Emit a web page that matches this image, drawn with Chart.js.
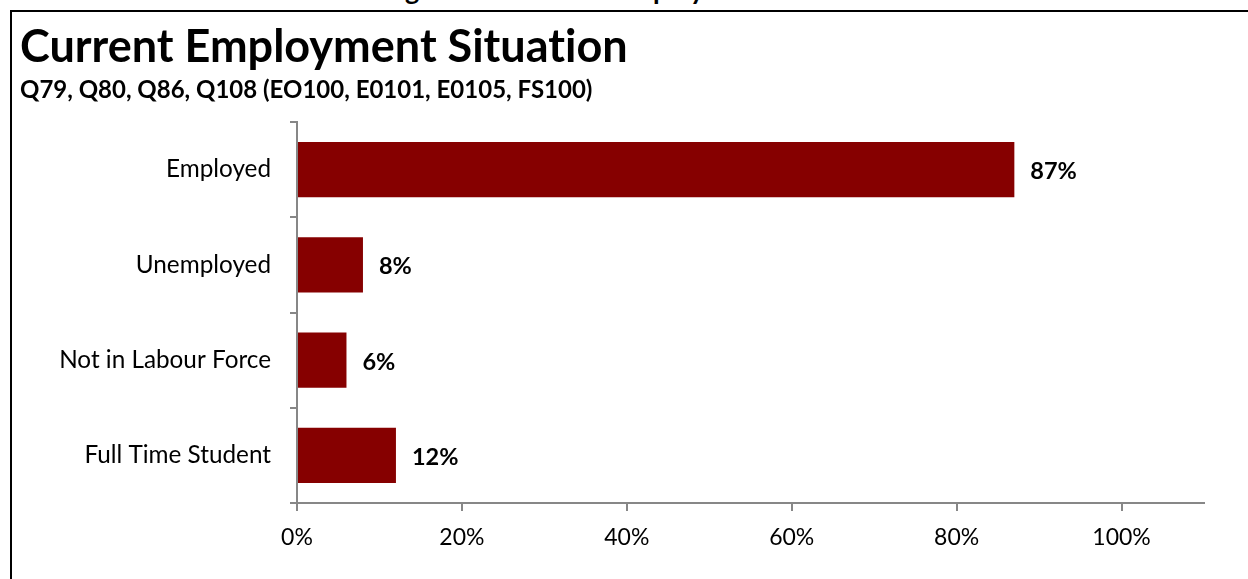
<!DOCTYPE html>
<html>
<head>
<meta charset="utf-8">
<script src="https://cdn.jsdelivr.net/npm/chart.js@4.4.0/dist/chart.umd.min.js"></script>
<style>
  body { margin: 0; width: 1248px; height: 579px; overflow: hidden; background: #fff; position: relative; }
  .caption { position: absolute; left: 383px; top: -24px; font: bold 27px Lato, sans-serif; line-height: 1; white-space: nowrap; color: #000; }
  .frame { position: absolute; left: 10px; top: 10px; width: 1238px; height: 569px; box-sizing: border-box; border-left: 2px solid #000; border-top: 2px solid #000; }
  .frame canvas { display: block; }
</style>
</head>
<body>
<div class="caption">Figure 4.1: Current Employment Situation</div>
<div class="frame">
  <canvas id="employmentChart" width="1236" height="567"></canvas>
</div>
<script>
const categories = ['Employed', 'Unemployed', 'Not in Labour Force', 'Full Time Student'];
const percentages = [87, 8, 6, 12];
const xTicks = [0, 20, 40, 60, 80, 100];

// zero-width non-joiner keeps Lato from drawing the "ti" ligature
const titleText = 'Current Employment Situat\u200Cion';
const subtitleText = 'Q79, Q80, Q86, Q108 (EO100, E0101, E0105, FS100)';

// writes the value next to the end of each bar
const barValueLabels = {
  id: 'barValueLabels',
  afterDatasetsDraw(chart) {
    const ctx = chart.ctx;
    const meta = chart.getDatasetMeta(0);
    ctx.save();
    ctx.font = 'bold 23.5px Lato, sans-serif';
    ctx.fillStyle = '#000';
    ctx.textAlign = 'left';
    ctx.textBaseline = 'middle';
    meta.data.forEach((bar, i) => {
      ctx.fillText(percentages[i] + '%', bar.x + 16, bar.y + 2);
    });
    ctx.restore();
  }
};

const axisGrey = '#878787';

new Chart(document.getElementById('employmentChart'), {
  type: 'bar',
  data: {
    labels: categories,
    datasets: [{
      data: percentages,
      backgroundColor: '#860000',
      borderWidth: 0,
      categoryPercentage: 1,
      barPercentage: 0.58
    }]
  },
  options: {
    indexAxis: 'y',
    responsive: false,
    animation: false,
    layout: { padding: { left: 8, right: 44, top: 0, bottom: 0 } },
    plugins: {
      legend: { display: false },
      tooltip: { enabled: false },
      title: {
        display: true,
        text: titleText,
        align: 'start',
        color: '#000',
        font: { family: 'Lato', size: 45, weight: 'bold', lineHeight: 1.2 },
        padding: { top: 8, bottom: 2 }
      },
      subtitle: {
        display: true,
        text: subtitleText,
        align: 'start',
        color: '#000',
        font: { family: 'Lato', size: 24, weight: 'bold', lineHeight: 1.2 },
        padding: { top: 0, bottom: 17.2 }
      }
    },
    scales: {
      x: {
        min: 0,
        max: 110,
        afterFit(scale) { scale.height = 76; },
        afterBuildTicks(scale) {
          scale.ticks = xTicks.map(v => ({ value: v }));
        },
        ticks: {
          color: '#000',
          padding: 13,
          font: { family: 'Lato', size: 23 },
          callback: v => v + '%'
        },
        grid: { drawOnChartArea: false, drawTicks: true, tickLength: 8, color: axisGrey, lineWidth: 2 },
        border: { color: axisGrey, width: 2 }
      },
      y: {
        afterFit(scale) { scale.width = 277; },
        ticks: {
          color: '#000',
          padding: 19,
          font: { family: 'Lato', size: 24.3 }
        },
        grid: { drawOnChartArea: false, drawTicks: true, tickLength: 7, color: axisGrey, lineWidth: 2 },
        border: { color: axisGrey, width: 2 }
      }
    }
  },
  plugins: [barValueLabels]
});
</script>
</body>
</html>
